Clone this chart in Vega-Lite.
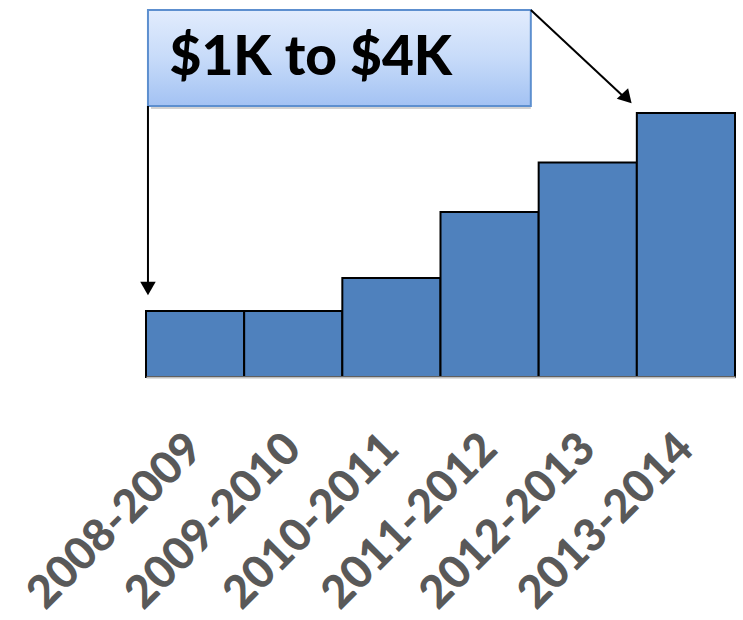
{
  "$schema": "https://vega.github.io/schema/vega-lite/v6.json",
  "width": 589,
  "height": 367,
  "autosize": {"type": "none"},
  "padding": {"left": 146, "top": 10, "right": 8, "bottom": 243},
  "config": {"view": {"stroke": null}},
  "resolve": {"scale": {"x": "independent"}},
  "layer": [
    {
      "data": {"values": [
        {"period": "2008-2009", "value": 1000},
        {"period": "2009-2010", "value": 1000},
        {"period": "2010-2011", "value": 1500},
        {"period": "2011-2012", "value": 2500},
        {"period": "2012-2013", "value": 3250},
        {"period": "2013-2014", "value": 4000}
      ]},
      "mark": {"type": "bar", "fill": "#4f81bd", "stroke": "#000000", "strokeWidth": 2},
      "encoding": {
        "x": {
          "field": "period", "type": "nominal", "sort": null,
          "scale": {"paddingInner": 0, "paddingOuter": 0},
          "axis": {
            "title": null, "ticks": false, "labelAngle": -45, "zindex": 1,
            "labelAlign": "right", "labelBaseline": "middle", "labelLimit": 0,
            "labelFont": "Lato", "labelFontWeight": 900, "labelFontSize": 45,
            "labelColor": "#595959", "labelPadding": 64,
            "domainColor": "#bfbfbf", "domainWidth": 2
          }
        },
        "y": {"field": "value", "type": "quantitative", "scale": {"domain": [0, 5560], "nice": false}, "axis": null}
      }
    },
    {
      "data": {"values": [{}]},
      "mark": {"type": "rect", "fill": "#7f7f7f", "opacity": 0.35, "xOffset": 3, "yOffset": 3},
      "encoding": {
        "x": {"datum": 0.02, "type": "quantitative", "scale": {"domain": [0, 6], "nice": false}, "axis": null},
        "x2": {"datum": 3.92},
        "y": {"datum": 4106, "type": "quantitative"},
        "y2": {"datum": 5560}
      }
    },
    {
      "data": {"values": [{}]},
      "mark": {
        "type": "rect", "stroke": "#5d8fcf", "strokeWidth": 2,
        "fill": {"gradient": "linear", "x1": 0, "y1": 0, "x2": 0, "y2": 1,
          "stops": [{"offset": 0, "color": "#e2ecfd"}, {"offset": 0.5, "color": "#c7dbf9"}, {"offset": 1, "color": "#a3c2f3"}]}
      },
      "encoding": {
        "x": {"datum": 0.02, "type": "quantitative", "scale": {"domain": [0, 6], "nice": false}, "axis": null},
        "x2": {"datum": 3.92},
        "y": {"datum": 4106, "type": "quantitative"},
        "y2": {"datum": 5560}
      }
    },
    {
      "data": {"values": [{"label": "$1K to $4K"}]},
      "mark": {"type": "text", "font": "Lato", "fontWeight": 900, "fontSize": 55, "align": "left", "baseline": "middle", "color": "#000000"},
      "encoding": {
        "x": {"datum": 0.24, "type": "quantitative", "scale": {"domain": [0, 6], "nice": false}, "axis": null},
        "y": {"datum": 4830, "type": "quantitative"},
        "text": {"field": "label"}
      }
    },
    {
      "data": {"values": [{}]},
      "mark": {"type": "rule", "color": "#000000", "strokeWidth": 2},
      "encoding": {
        "x": {"datum": 0.02, "type": "quantitative", "scale": {"domain": [0, 6], "nice": false}, "axis": null},
        "y": {"datum": 4106, "type": "quantitative"},
        "y2": {"datum": 1400}
      }
    },
    {
      "data": {"values": [{}]},
      "mark": {"type": "point", "shape": "triangle-down", "filled": true, "color": "#000000", "size": 240, "opacity": 1},
      "encoding": {
        "x": {"datum": 0.02, "type": "quantitative", "scale": {"domain": [0, 6], "nice": false}, "axis": null},
        "y": {"datum": 1340, "type": "quantitative"}
      }
    },
    {
      "data": {"values": [{}]},
      "mark": {"type": "rule", "color": "#000000", "strokeWidth": 2},
      "encoding": {
        "x": {"datum": 3.92, "type": "quantitative", "scale": {"domain": [0, 6], "nice": false}, "axis": null},
        "x2": {"datum": 4.85},
        "y": {"datum": 5560, "type": "quantitative"},
        "y2": {"datum": 4270}
      }
    },
    {
      "data": {"values": [{}]},
      "mark": {"type": "point", "shape": "triangle-up", "filled": true, "color": "#000000", "size": 240, "opacity": 1, "angle": 137},
      "encoding": {
        "x": {"datum": 4.9, "type": "quantitative", "scale": {"domain": [0, 6], "nice": false}, "axis": null},
        "y": {"datum": 4220, "type": "quantitative"}
      }
    }
  ]
}
